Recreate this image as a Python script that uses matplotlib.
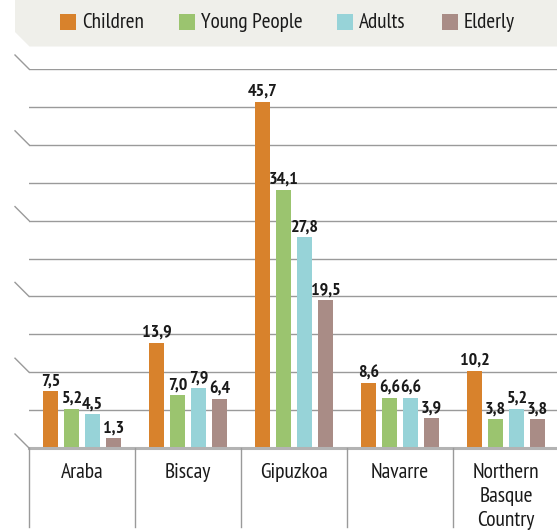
import matplotlib
matplotlib.use("Agg")
import matplotlib.pyplot as plt
from matplotlib.patches import Polygon, Rectangle
from matplotlib.lines import Line2D
from matplotlib import transforms

# Data
regions = ["Araba", "Biscay", "Gipuzkoa", "Navarre", "Northern\nBasque\nCountry"]
series_names = ["Children", "Young People", "Adults", "Elderly"]
children = [7.5, 13.9, 45.7, 8.6, 10.2]
young_people = [5.2, 7.0, 34.1, 6.6, 3.8]
adults = [4.5, 7.9, 27.8, 6.6, 5.2]
elderly = [1.3, 6.4, 19.5, 3.9, 3.8]
series_values = [children, young_people, adults, elderly]
colors = ["#D8822C", "#9BC46F", "#97D3D8", "#A98C86"]

FONT = ["PT Sans Narrow", "DejaVu Sans"]
TEXT = "#1a1a1a"

W, H = 557, 530
fig = plt.figure(figsize=(W / 100, H / 100), dpi=100)
fig.patch.set_facecolor("white")

def fx(px):
    return px / W

def fy(py):
    return 1 - py / H

# Plot area: baseline at y=448 px, value 50 at y=69 px; one category = 106 px
x0, x1 = 29, 29 + 106 * 5
y_base, y_top = 448, 69
ax = fig.add_axes([fx(x0), fy(y_base), (x1 - x0) / W, (y_base - y_top) / H])
ax.set_xlim(0, 5)
ax.set_ylim(0, 50)
ax.axis("off")

# Legend band with a chamfered lower-left corner
band = Polygon([[fx(15), fy(0)], [fx(W), fy(0)], [fx(W), fy(46.5)],
                [fx(29.5), fy(46.5)], [fx(15), fy(32)]],
               closed=True, transform=fig.transFigure, facecolor="#EFEFEA",
               edgecolor="none", zorder=0)
fig.patches.append(band)

legend_x = [60, 179, 337, 442]
for name, col, lx in zip(series_names, colors, legend_x):
    fig.patches.append(Rectangle((fx(lx), fy(30)), 16 / W, 16 / H,
                                 transform=fig.transFigure, facecolor=col,
                                 edgecolor="none"))
    fig.text(fx(lx + 22), fy(22), name, fontsize=15.3, family=FONT,
             color=TEXT, va="center", ha="left")

# Gridlines every 5 units; slanted lead-ins every 10
grid_col = "#9a9a9a"
for v in range(5, 55, 5):
    ax.axhline(v, color=grid_col, lw=1.0, xmin=0, xmax=1, zorder=1)
slant = transforms.offset_copy(ax.transData, fig=fig, x=-14, y=14, units="dots")
for v in range(0, 60, 10):
    (xa, ya) = slant.transform((0, v))
    (xb, yb) = ax.transData.transform((0, v))
    fig.add_artist(Line2D([xa / W, xb / W], [ya / H, yb / H],
                          transform=fig.transFigure, color=grid_col, lw=1.0))

# Baseline
ax.axhline(0, color="#b3b3b3", lw=2.2, zorder=3, clip_on=False)

# Category separators below the baseline
below = transforms.offset_copy(ax.transData, fig=fig, x=0, y=-79, units="dots")
for i in range(5):
    (xa, ya) = below.transform((i, 0))
    (xb, yb) = ax.transData.transform((i, 0))
    fig.add_artist(Line2D([xa / W, xb / W], [ya / H, yb / H],
                          transform=fig.transFigure, color=grid_col, lw=1.0))

# Bars and value labels
step, width = 0.198, 0.15
for k, (vals, col) in enumerate(zip(series_values, colors)):
    xs = [i + 0.5 + (k - 1.5) * step for i in range(len(regions))]
    ax.bar(xs, vals, width=width, color=col, zorder=2)
    for x, v in zip(xs, vals):
        ax.annotate(f"{v:.1f}".replace(".", ","), (x, v), xytext=(0, 1.2),
                    textcoords="offset points", ha="center", va="bottom",
                    fontsize=13, fontweight="bold", family=FONT, color=TEXT)

# Category labels
for i, r in enumerate(regions):
    ax.annotate(r, (i + 0.5, 0), xytext=(0, -11), textcoords="offset points",
                ha="center", va="top", fontsize=15.5, family=FONT, color=TEXT,
                linespacing=1.32, annotation_clip=False)

fig.savefig("out.png", dpi=100)
